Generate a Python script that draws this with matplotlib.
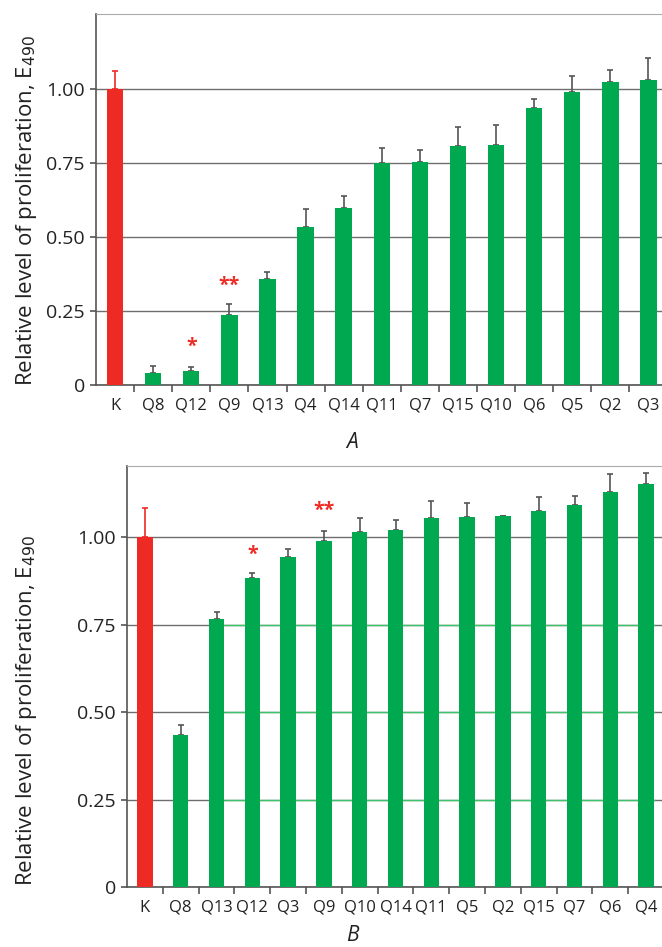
import numpy as np
import matplotlib
matplotlib.use("Agg")
import matplotlib.pyplot as plt

plt.rcParams['font.family'] = ['Open Sans', 'DejaVu Sans']

# panel A
cats_a = ["K", "Q8", "Q12", "Q9", "Q13", "Q4", "Q14", "Q11", "Q7", "Q15", "Q10", "Q6", "Q5", "Q2", "Q3"]
vals_a = [1.00, 0.040, 0.048, 0.236, 0.357, 0.535, 0.598, 0.749, 0.754, 0.808, 0.812, 0.934, 0.991, 1.024, 1.031]
errs_a = [0.062, 0.025, 0.012, 0.039, 0.026, 0.059, 0.041, 0.052, 0.041, 0.065, 0.066, 0.031, 0.053, 0.039, 0.075]
stars_a = {"Q12": ("*", 0.13), "Q9": ("**", 0.335)}

# panel B
cats_b = ["K", "Q8", "Q13", "Q12", "Q3", "Q9", "Q10", "Q14", "Q11", "Q5", "Q2", "Q15", "Q7", "Q6", "Q4"]
vals_b = [1.00, 0.434, 0.767, 0.883, 0.942, 0.989, 1.014, 1.019, 1.054, 1.057, 1.059, 1.074, 1.091, 1.128, 1.151]
errs_b = [0.082, 0.029, 0.019, 0.014, 0.025, 0.029, 0.040, 0.030, 0.049, 0.039, 0.001, 0.039, 0.027, 0.052, 0.032]
stars_b = {"Q12": ("*", 0.95), "Q9": ("**", 1.075)}

RED = "#ee2a24"
GREEN = "#00a84f"
GRID = "#6e6e6e"
SPINE = "#555555"

fig = plt.figure(figsize=(6.62, 9.47), dpi=100)


def panel(pos, cats, vals, errs, stars, ytop, letter, letter_y, label_x, label_y, green_grid=False):
    ax = fig.add_axes(pos)
    x = np.arange(len(cats))
    colors = [RED if c == "K" else GREEN for c in cats]
    ax.set_xlim(-0.5, len(cats) - 0.5)
    ax.set_ylim(0, ytop)
    ax.set_yticks([0, 0.25, 0.5, 0.75, 1.0])
    ax.set_yticklabels(["0", "0.25", "0.50", "0.75", "1.00"], fontsize=14, color="#222222")
    ax.grid(axis="y", color=GRID, linewidth=1.0)
    ax.set_axisbelow(True)
    if green_grid:
        # original has green-tinted gridlines across the green bars
        for yv in [0.25, 0.5, 0.75]:
            ax.hlines(yv, 2.2, len(cats) - 0.75, color="#3cc46a", linewidth=1.0, zorder=1)
    ax.bar(x, vals, width=0.43, color=colors, zorder=3)
    for xi, v, e, c in zip(x, vals, errs, cats):
        ec = RED if c == "K" else "#555555"
        ax.errorbar(xi, v, yerr=[[0], [e]], fmt="none", ecolor=ec, elinewidth=1.2,
                    capsize=2.5, capthick=1.2, zorder=2)
    for c, (s, yv) in stars.items():
        ax.text(cats.index(c), yv, s, color=RED, fontsize=14, ha="center", va="center",
                fontweight="bold")
    ax.set_xticks(x)
    ax.set_xticklabels(cats, fontsize=12, color="#222222")
    ax.tick_params(axis="x", which="major", length=0, pad=9)
    ax.set_xticks(np.arange(len(cats)) + 0.5, minor=True)
    ax.tick_params(axis="x", which="minor", length=5, width=1.2, color=SPINE, direction="out")
    ax.tick_params(axis="y", length=4, width=1.2, color=SPINE, pad=4)
    ax.spines["right"].set_visible(False)
    ax.spines["top"].set_color("#aaaaaa")
    ax.spines["left"].set_color(SPINE)
    ax.spines["bottom"].set_color(SPINE)
    ax.spines["left"].set_linewidth(1.2)
    ax.spines["bottom"].set_linewidth(1.2)
    fig.text(label_x, label_y, "Relative level of proliferation, E$_{490}$", rotation=90,
             ha="center", va="center", fontsize=16, color="#222222")
    fig.text(352 / 662, letter_y, letter, fontsize=15, style="italic", ha="center", va="center",
             color="#222222")
    return ax


panel([96 / 662, 1 - 385 / 947, 571.5 / 662, 371 / 947], cats_a, vals_a, errs_a, stars_a,
      1.253, "A", 1 - 442 / 947, 27 / 662, 1 - 211 / 947)
panel([127 / 662, 1 - 887 / 947, 537 / 662, 421 / 947], cats_b, vals_b, errs_b, stars_b,
      1.203, "B", 1 - 935 / 947, 27 / 662, 1 - 711 / 947, green_grid=True)

fig.savefig("out.png", dpi=100)
